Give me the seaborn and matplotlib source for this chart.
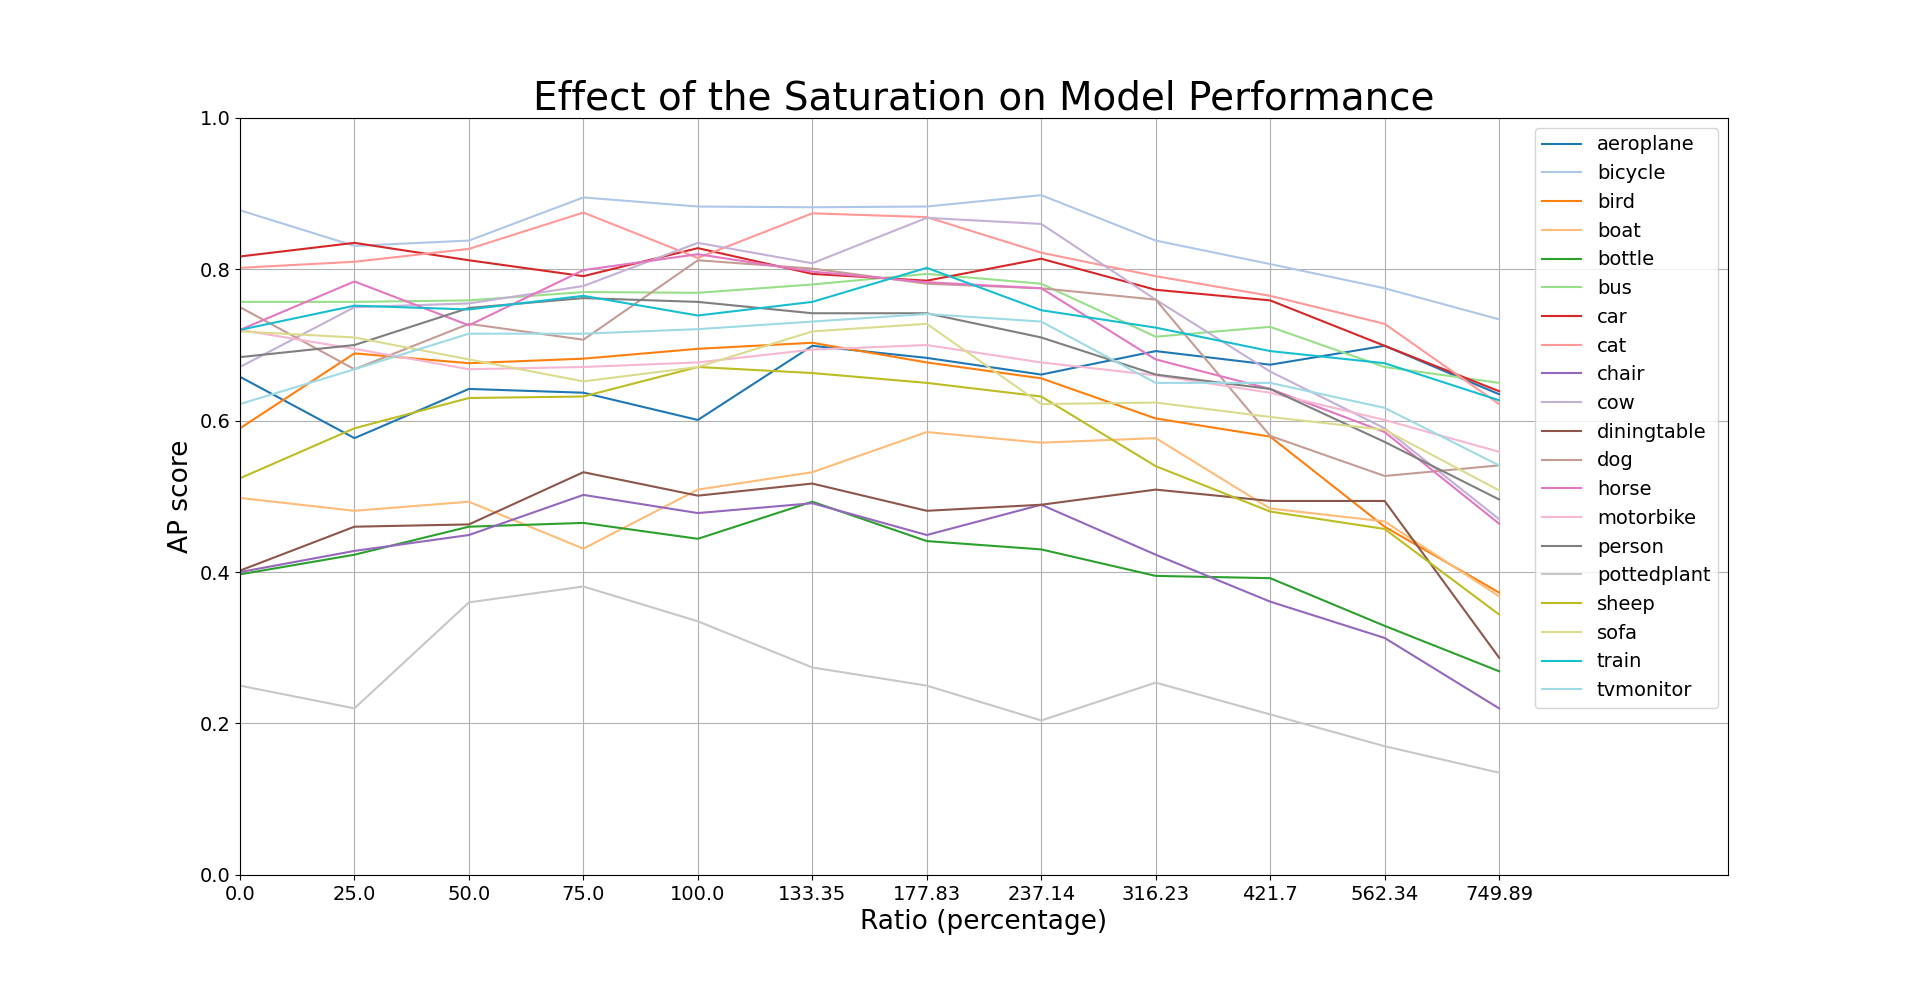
import pandas as pd
import matplotlib
matplotlib.use("Agg")
import matplotlib.pyplot as plt
import seaborn as sns

ratios = ["0.0", "25.0", "50.0", "75.0", "100.0", "133.35", "177.83", "237.14",
          "316.23", "421.7", "562.34", "749.89"]

aeroplane = [0.658, 0.577, 0.642, 0.637, 0.601, 0.699, 0.683, 0.661, 0.692, 0.674, 0.699, 0.635]
bicycle = [0.878, 0.831, 0.838, 0.895, 0.883, 0.882, 0.883, 0.898, 0.838, 0.807, 0.775, 0.734]
bird = [0.590, 0.689, 0.676, 0.682, 0.695, 0.703, 0.677, 0.656, 0.603, 0.579, 0.460, 0.373]
boat = [0.498, 0.481, 0.493, 0.431, 0.509, 0.532, 0.585, 0.571, 0.577, 0.484, 0.467, 0.368]
bottle = [0.397, 0.423, 0.460, 0.465, 0.444, 0.493, 0.441, 0.430, 0.395, 0.392, 0.329, 0.269]
bus = [0.757, 0.757, 0.759, 0.770, 0.769, 0.780, 0.794, 0.781, 0.711, 0.724, 0.671, 0.650]
car = [0.817, 0.835, 0.812, 0.791, 0.828, 0.794, 0.785, 0.814, 0.773, 0.759, 0.699, 0.639]
cat = [0.802, 0.810, 0.827, 0.875, 0.815, 0.874, 0.869, 0.822, 0.791, 0.765, 0.728, 0.622]
chair = [0.400, 0.428, 0.449, 0.502, 0.478, 0.491, 0.449, 0.489, 0.423, 0.361, 0.313, 0.220]
cow = [0.671, 0.750, 0.755, 0.778, 0.835, 0.808, 0.868, 0.860, 0.760, 0.665, 0.590, 0.470]
diningtable = [0.402, 0.460, 0.463, 0.532, 0.501, 0.517, 0.481, 0.489, 0.509, 0.494, 0.494, 0.287]
dog = [0.750, 0.668, 0.728, 0.707, 0.812, 0.801, 0.781, 0.775, 0.760, 0.580, 0.527, 0.541]
horse = [0.720, 0.784, 0.726, 0.799, 0.820, 0.797, 0.783, 0.775, 0.681, 0.642, 0.585, 0.464]
motorbike = [0.720, 0.695, 0.668, 0.671, 0.677, 0.694, 0.700, 0.677, 0.660, 0.637, 0.601, 0.559]
person = [0.684, 0.700, 0.749, 0.762, 0.757, 0.742, 0.742, 0.710, 0.661, 0.642, 0.572, 0.496]
pottedplant = [0.250, 0.220, 0.360, 0.381, 0.335, 0.274, 0.250, 0.204, 0.254, 0.212, 0.170, 0.135]
sheep = [0.524, 0.590, 0.630, 0.632, 0.671, 0.663, 0.650, 0.632, 0.540, 0.480, 0.457, 0.344]
sofa = [0.718, 0.710, 0.681, 0.652, 0.671, 0.718, 0.728, 0.622, 0.624, 0.605, 0.588, 0.508]
train = [0.720, 0.752, 0.747, 0.765, 0.739, 0.757, 0.802, 0.746, 0.723, 0.692, 0.676, 0.627]
tvmonitor = [0.622, 0.668, 0.715, 0.715, 0.721, 0.731, 0.741, 0.731, 0.650, 0.650, 0.617, 0.541]

classes = {
    "aeroplane": aeroplane, "bicycle": bicycle, "bird": bird, "boat": boat,
    "bottle": bottle, "bus": bus, "car": car, "cat": cat, "chair": chair,
    "cow": cow, "diningtable": diningtable, "dog": dog, "horse": horse,
    "motorbike": motorbike, "person": person, "pottedplant": pottedplant,
    "sheep": sheep, "sofa": sofa, "train": train, "tvmonitor": tvmonitor,
}

# long format for seaborn
rows = []
for name, vals in classes.items():
    for i, v in enumerate(vals):
        rows.append({"pos": i, "class": name, "ap": v})
df = pd.DataFrame(rows)

fig, ax = plt.subplots(figsize=(19.2, 9.83), dpi=100)
sns.lineplot(data=df, x="pos", y="ap", hue="class", palette="tab20",
             linewidth=1.5, ax=ax)

ax.set_xticks(range(len(ratios)))
ax.set_xticklabels(ratios, fontsize=14)
ax.tick_params(axis="y", labelsize=14)
ax.set_xlim(0, 13)
ax.set_ylim(0, 1.0)
ax.grid(True)
ax.set_title("Effect of the Saturation on Model Performance", fontsize=28)
ax.set_xlabel("Ratio (percentage)", fontsize=19)
ax.set_ylabel("AP score", fontsize=19)
ax.legend(loc="upper right", fontsize=14, title=None)

plt.savefig("out.png", dpi=100)
